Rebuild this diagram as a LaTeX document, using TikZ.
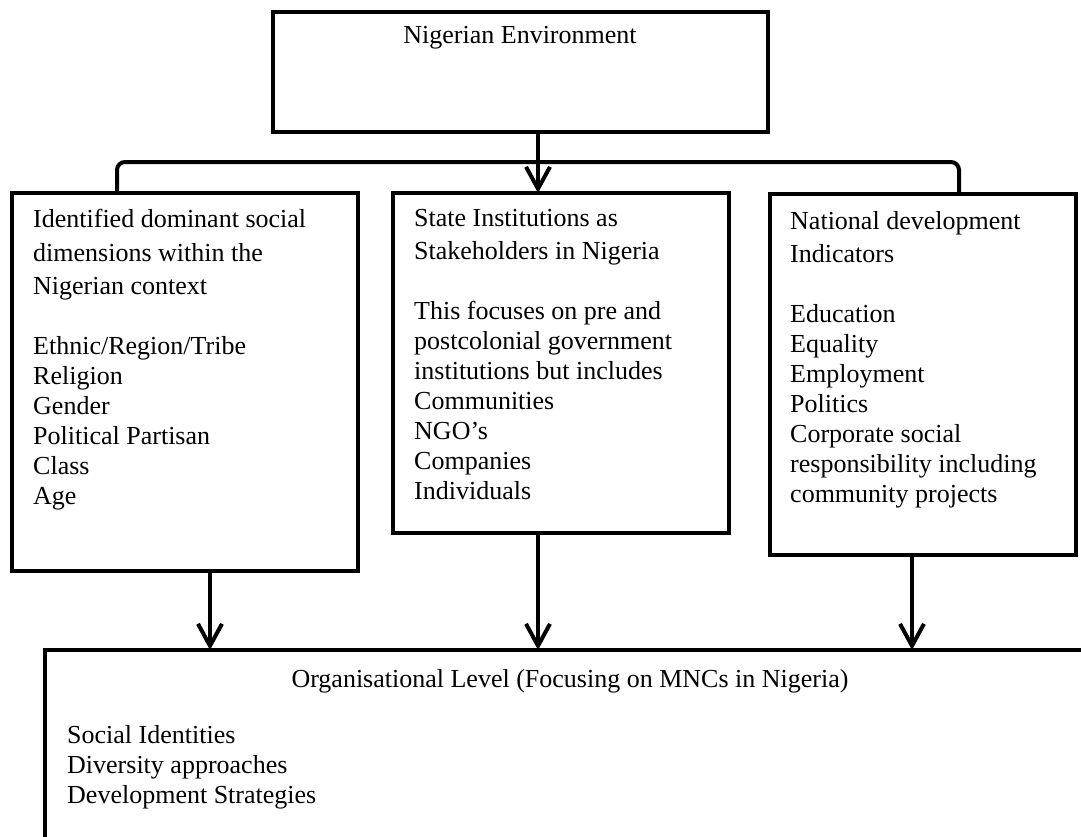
\documentclass[tikz,border=0pt]{standalone}
\usepackage{fontspec}
\setmainfont{Liberation Serif}
\usetikzlibrary{arrows.meta}

\begin{document}
\begin{tikzpicture}[
    x=1pt, y=-1pt,
    box/.style={draw, line width=4pt, inner sep=0pt, outer sep=0pt, anchor=north west},
    txt/.style={inner sep=0pt, align=left, anchor=north west, font=\fontsize{26}{30}\selectfont},
    link/.style={line width=4pt},
    arr/.style={link, -{Straight Barb[length=22pt,width=24pt]}}
]
    \clip (0,0) rectangle (1081,836);
    \fill[white] (0,0) rectangle (1081,836);

    % --- Top Box ---
    \node[box, minimum width=495pt, minimum height=120pt] (env) at (273,12) {};
    \node[txt, anchor=base] (envText) at (520,43) {Nigerian Environment};

    % --- Middle Boxes ---
    \node[box, minimum width=346pt, minimum height=378pt] (dims) at (12,193) {};
    \node[box, minimum width=336pt, minimum height=340pt] (inst) at (393,193) {};
    \node[box, minimum width=306pt, minimum height=361pt] (indic) at (770,194) {};

    \node[txt] (dimsText) at ([xshift=21pt,yshift=-16pt]dims.north west)
        {Identified dominant social\\[3.5pt] dimensions within the\\[3.5pt] Nigerian context\\[29.5pt]
         Ethnic/Region/Tribe\\ Religion\\ Gender\\ Political Partisan\\ Class\\ Age};
    \node[txt] (instText) at ([xshift=21pt,yshift=-16pt]inst.north west)
        {State Institutions as\\[3.5pt] Stakeholders in Nigeria\\[29.5pt]
         This focuses on pre and\\ postcolonial government\\ institutions but includes\\
         Communities\\ NGO’s\\ Companies\\ Individuals};
    \node[txt] (indicText) at ([xshift=20pt,yshift=-17pt]indic.north west)
        {National development\\[3.5pt] Indicators\\[29.5pt]
         Education\\ Equality\\ Employment\\ Politics\\ Corporate social\\
         responsibility including\\ community projects};

    % --- Bottom Box ---
    \node[box, minimum width=1200pt, minimum height=400pt] (org) at (45,650) {};
    \node[txt, anchor=base] (orgTitle) at (570,687) {Organisational Level (Focusing on MNCs in Nigeria)};
    \node[txt] (orgBody) at ([xshift=22pt,yshift=-75pt]org.north west)
        {Social Identities\\ Diversity approaches\\ Development Strategies};

    % --- Connectors ---
    \coordinate (barL) at (117,162);
    \coordinate (barR) at (959,162);
    \coordinate (a1) at (210,0);
    \coordinate (a2) at (538,0);
    \coordinate (a3) at (912,0);

    \draw[link, rounded corners=8pt] (dims.north -| barL) -- (barL) -- (barR) -- (indic.north -| barR);
    \draw[arr] (env.south -| a2) -- (inst.north -| a2);

    \draw[arr] (dims.south -| a1) -- (org.north -| a1);
    \draw[arr] (inst.south -| a2) -- (org.north -| a2);
    \draw[arr] (indic.south -| a3) -- (org.north -| a3);

\end{tikzpicture}
\end{document}
